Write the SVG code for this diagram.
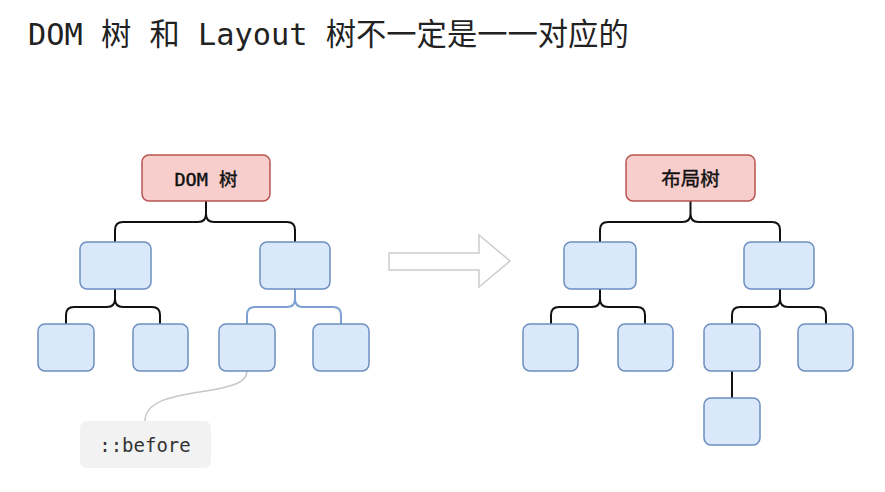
<svg xmlns="http://www.w3.org/2000/svg" width="885" height="492" viewBox="0 0 885 492">
<style>
.title{font-family:"DejaVu Sans Mono","Noto Sans CJK SC",monospace;font-size:30.3px;fill:#222}
.lbl{font-family:"DejaVu Sans Mono","Noto Sans CJK SC",monospace;font-size:18.5px;fill:#111;stroke:#111;stroke-width:0.45;text-anchor:middle;dominant-baseline:central}
.red{fill:#f8cecc;stroke:#b85450;stroke-width:1.5}
.blue{fill:#dae8fc;stroke:#6c8ebf;stroke-width:1.5}
.ck{fill:none;stroke:#111;stroke-width:2}
.cb{fill:none;stroke:#7ea1d3;stroke-width:2}
.cg{fill:none;stroke:#c8c8c8;stroke-width:1.5}
</style>
<rect width="885" height="492" fill="#fff"/>
<text class="title" x="28" y="44.5">DOM 树 和 Layout 树不一定是一一对应的</text>
<g id="connectors">
<path class="ck" d="M206,201 V214 Q206,222 198,222 H123 Q115,222 115,230 V242 M206,214 Q206,222 214,222 H287 Q295,222 295,230 V242"/>
<path class="ck" d="M115,289 V299 Q115,307 107,307 H74 Q66,307 66,315 V324 M115,299 Q115,307 123,307 H152 Q160,307 160,315 V324"/>
<path class="cb" d="M295,289 V299 Q295,307 287,307 H255 Q247,307 247,315 V324 M295,299 Q295,307 303,307 H333 Q341,307 341,315 V324"/>
<path class="cg" d="M247,371 C247,400 145,383 145,421"/>
<path class="ck" d="M690.5,201 V214 Q690.5,222 682.5,222 H608 Q600,222 600,230 V242 M690.5,214 Q690.5,222 698.5,222 H772 Q780,222 780,230 V242"/>
<path class="ck" d="M600,289 V299 Q600,307 592,307 H559 Q551,307 551,315 V324 M600,299 Q600,307 608,307 H637 Q645,307 645,315 V324"/>
<path class="ck" d="M780,289 V299 Q780,307 772,307 H740 Q732,307 732,315 V324 M780,299 Q780,307 788,307 H818 Q826,307 826,315 V324"/>
<path class="ck" d="M732,371 V398"/>
</g>
<g id="arrow">
<polygon points="389,253 479,253 479,235 510,261 479,287 479,270 389,270" fill="#fff" stroke="#cccccc" stroke-width="1.5"/>
</g>
<g id="dom-root"><rect class="red" x="142" y="155" width="128" height="46" rx="7"/><text class="lbl" x="206" y="179">DOM 树</text></g>
<g id="dom-a"><rect class="blue" x="80" y="242" width="71" height="47" rx="7"/></g>
<g id="dom-b"><rect class="blue" x="260" y="242" width="70" height="47" rx="7"/></g>
<g id="dom-a1"><rect class="blue" x="38" y="324" width="56" height="47" rx="7"/></g>
<g id="dom-a2"><rect class="blue" x="133" y="324" width="55" height="47" rx="7"/></g>
<g id="dom-b1"><rect class="blue" x="219" y="324" width="56" height="47" rx="7"/></g>
<g id="dom-b2"><rect class="blue" x="313" y="324" width="56" height="47" rx="7"/></g>
<g id="before"><rect x="80" y="421" width="131" height="47" rx="7" fill="#f2f2f2"/><text class="lbl" x="145" y="445" style="font-size:19px;stroke:none;fill:#333">::before</text></g>
<g id="layout-root"><rect class="red" x="626" y="155" width="129" height="46" rx="7"/><text class="lbl" x="690.5" y="179" style="font-size:19.5px">布局树</text></g>
<g id="lay-a"><rect class="blue" x="564" y="242" width="72" height="47" rx="7"/></g>
<g id="lay-b"><rect class="blue" x="744" y="242" width="70" height="47" rx="7"/></g>
<g id="lay-a1"><rect class="blue" x="523" y="324" width="55" height="47" rx="7"/></g>
<g id="lay-a2"><rect class="blue" x="618" y="324" width="55" height="47" rx="7"/></g>
<g id="lay-b1"><rect class="blue" x="704" y="324" width="56" height="47" rx="7"/></g>
<g id="lay-b2"><rect class="blue" x="798" y="324" width="55" height="47" rx="7"/></g>
<g id="lay-b1a"><rect class="blue" x="704" y="398" width="56" height="47" rx="7"/></g>
</svg>
